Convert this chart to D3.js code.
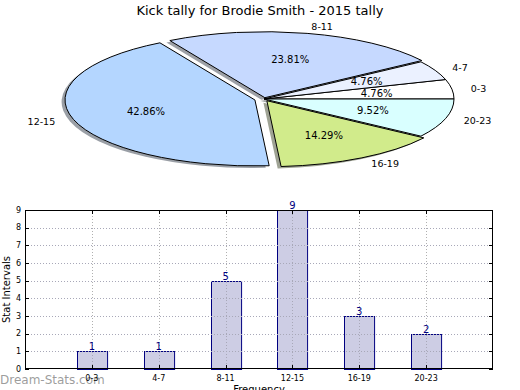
<!DOCTYPE html>
<html lang="en">
  <head>
    <title>Kick tally for Brodie Smith - 2015 tally</title>
    <meta charset="utf-8">
    <style>
    body { margin: 0; background: #fff; }
    svg { display: block; font-family: "DejaVu Sans", sans-serif; }
    </style>
  </head>
  <body>
    <svg width="520" height="390"></svg>
    <script src="https://d3js.org/d3.v7.min.js"></script>
    <script>
      // data
      var intervals = ["0-3", "4-7", "8-11", "12-15", "16-19", "20-23"];
      var kicks = [1, 1, 5, 9, 3, 2];
      var sliceColors = ["#ffffff", "#ebf1ff", "#c6d9ff", "#b4d6ff", "#d1eb8b", "#d9ffff"];
      var explode = [0, 0, 0.02, 0.05, 0.03, 0];
      var yTicks = [0, 1, 2, 3, 4, 5, 6, 7, 8, 9];

      (function draw() {
        var svg = d3.select("svg");

        svg.append("text")
          .attr("x", 260).attr("y", 14.5)
          .attr("text-anchor", "middle")
          .style("font-size", "13px")
          .text("Kick tally for Brodie Smith - 2015 tally");

        // ---- pie (matplotlib style, squashed to an ellipse) ----
        var cx = 264, cy = 99, rx = 190, ry = 66;
        var total = d3.sum(kicks);

        // counterclockwise from 3 o'clock, like matplotlib
        var pie = d3.pie().sort(null).startAngle(Math.PI / 2).endAngle(Math.PI / 2 - 2 * Math.PI);
        var slices = pie(kicks).map(function(d, i) {
          var m = (d.startAngle + d.endAngle) / 2;
          return {
            i: i,
            a0: Math.min(d.startAngle, d.endAngle),
            a1: Math.max(d.startAngle, d.endAngle),
            ux: Math.sin(m), uy: -Math.cos(m),
            e: explode[i],
            pct: d.value / total * 100
          };
        });
        var arc = d3.arc().innerRadius(0).outerRadius(1)
          .startAngle(d => d.a0).endAngle(d => d.a1);

        var pieG = svg.append("g")
          .attr("transform", "translate(" + cx + "," + cy + ") scale(" + rx + "," + ry + ")");

        // shadows under everything
        pieG.selectAll("path.shadow")
          .data(slices)
          .enter().append("path")
          .attr("class", "shadow")
          .attr("d", arc)
          .attr("transform", d => "translate(" + (d.e * d.ux - 0.018) + "," + (d.e * d.uy + 0.03) + ")")
          .attr("fill", function(d) {
            var c = d3.rgb(sliceColors[d.i]);
            return d3.rgb(c.r * 0.3, c.g * 0.3, c.b * 0.3);
          })
          .attr("fill-opacity", 0.5)
          .attr("stroke", "none");

        pieG.selectAll("path.wedge")
          .data(slices)
          .enter().append("path")
          .attr("class", "wedge")
          .attr("d", arc)
          .attr("transform", d => "translate(" + (d.e * d.ux) + "," + (d.e * d.uy) + ")")
          .attr("fill", d => sliceColors[d.i])
          .attr("stroke", "#000")
          .attr("stroke-width", 1)
          .attr("stroke-linejoin", "round")
          .attr("vector-effect", "non-scaling-stroke");

        svg.append("g").selectAll("text")
          .data(slices)
          .enter().append("text")
          .attr("x", d => cx + rx * (d.e + 1.1) * d.ux)
          .attr("y", d => cy + ry * (d.e + 1.1) * d.uy)
          .attr("dy", "0.35em")
          .attr("text-anchor", d => d.ux > 0 ? "start" : "end")
          .style("font-size", "9.5px")
          .text(d => intervals[d.i]);

        svg.append("g").selectAll("text")
          .data(slices)
          .enter().append("text")
          .attr("x", d => cx + rx * (d.e + 0.6) * d.ux)
          .attr("y", d => cy + ry * (d.e + 0.6) * d.uy)
          .attr("dy", "0.35em")
          .attr("text-anchor", "middle")
          .style("font-size", "10px")
          .text(d => d.pct.toFixed(2) + "%");

        // ---- bar chart ----
        var left = 25, right = 493, plotTop = 210, bottom = 369;
        var x = d3.scaleLinear().domain([-1, 6]).range([left, right]);
        var y = d3.scaleLinear().domain([0, 9]).range([bottom, plotTop]);
        var barW = 0.45;

        var grid = svg.append("g")
          .attr("stroke", "#b0b0b0")
          .attr("stroke-width", 1)
          .attr("stroke-dasharray", "1,2");
        grid.selectAll("line.h")
          .data(yTicks.slice(1, -1))
          .enter().append("line")
          .attr("x1", left).attr("x2", right)
          .attr("y1", d => Math.round(y(d)) + 0.5).attr("y2", d => Math.round(y(d)) + 0.5);
        grid.selectAll("line.v")
          .data(intervals)
          .enter().append("line")
          .attr("x1", (d, i) => Math.round(x(i)) + 0.5).attr("x2", (d, i) => Math.round(x(i)) + 0.5)
          .attr("y1", plotTop).attr("y2", bottom);

        svg.append("g").selectAll("rect")
          .data(kicks)
          .enter().append("rect")
          .attr("x", (d, i) => Math.round(x(i - barW / 2)) + 0.5)
          .attr("width", x(barW) - x(0))
          .attr("y", d => Math.round(y(d)) + 0.5)
          .attr("height", d => bottom - Math.round(y(d)))
          .attr("fill", "#cdcde4")
          .attr("stroke", "#000080")
          .attr("stroke-width", 1);

        // grid drawn over the bars, as matplotlib does
        var grid2 = svg.append("g")
          .attr("stroke", "#a8a8b8")
          .attr("stroke-width", 1)
          .attr("stroke-dasharray", "1,2");
        grid2.selectAll("line.v")
          .data(intervals)
          .enter().append("line")
          .attr("x1", (d, i) => Math.round(x(i)) + 0.5).attr("x2", (d, i) => Math.round(x(i)) + 0.5)
          .attr("y1", (d, i) => Math.round(y(kicks[i])) + 1).attr("y2", bottom);
        grid2.selectAll("line.h")
          .data(yTicks.slice(1, -1))
          .enter().append("line")
          .attr("x1", left).attr("x2", right)
          .attr("y1", d => Math.round(y(d)) + 0.5).attr("y2", d => Math.round(y(d)) + 0.5);

        svg.append("g").selectAll("text")
          .data(kicks)
          .enter().append("text")
          .attr("x", (d, i) => x(i))
          .attr("y", d => y(d) - 1)
          .attr("text-anchor", "middle")
          .attr("fill", "#000080")
          .style("font-size", "10px")
          .text(d => d);

        // frame
        svg.append("rect")
          .attr("x", left + 0.5).attr("y", plotTop + 0.5)
          .attr("width", right - left - 1).attr("height", bottom - plotTop - 1)
          .attr("fill", "none").attr("stroke", "#000").attr("stroke-width", 1);

        // inside ticks on both sides
        var ticks = svg.append("g").attr("stroke", "#000").attr("stroke-width", 1);
        yTicks.forEach(function(t) {
          var yy = Math.round(y(t)) + 0.5;
          ticks.append("line").attr("x1", left).attr("x2", left + 4).attr("y1", yy).attr("y2", yy);
          ticks.append("line").attr("x1", right - 4).attr("x2", right).attr("y1", yy).attr("y2", yy);
        });
        intervals.forEach(function(c, i) {
          var xx = Math.round(x(i)) + 0.5;
          ticks.append("line").attr("x1", xx).attr("x2", xx).attr("y1", bottom - 4).attr("y2", bottom);
          ticks.append("line").attr("x1", xx).attr("x2", xx).attr("y1", plotTop).attr("y2", plotTop + 4);
        });

        // watermark sits under the tick labels
        svg.append("text")
          .attr("x", 0).attr("y", 384)
          .style("font-size", "12px")
          .attr("fill", "#8c8c8c")
          .attr("fill-opacity", 0.85)
          .text("Dream-Stats.com");

        svg.append("g").selectAll("text")
          .data(yTicks)
          .enter().append("text")
          .attr("x", left - 4)
          .attr("y", d => y(d))
          .attr("dy", "0.35em")
          .attr("text-anchor", "end")
          .style("font-size", "8px")
          .text(d => d);

        svg.append("g").selectAll("text")
          .data(intervals)
          .enter().append("text")
          .attr("x", (d, i) => x(i))
          .attr("y", bottom + 12)
          .attr("text-anchor", "middle")
          .style("font-size", "8px")
          .text(d => d);

        svg.append("text")
          .attr("transform", "translate(10," + ((plotTop + bottom) / 2) + ") rotate(-90)")
          .attr("text-anchor", "middle")
          .style("font-size", "10px")
          .text("Stat Intervals");

        svg.append("text")
          .attr("x", (left + right) / 2).attr("y", 393)
          .attr("text-anchor", "middle")
          .style("font-size", "10px")
          .text("Frequency");
      })();
    </script>
  </body>
</html>
